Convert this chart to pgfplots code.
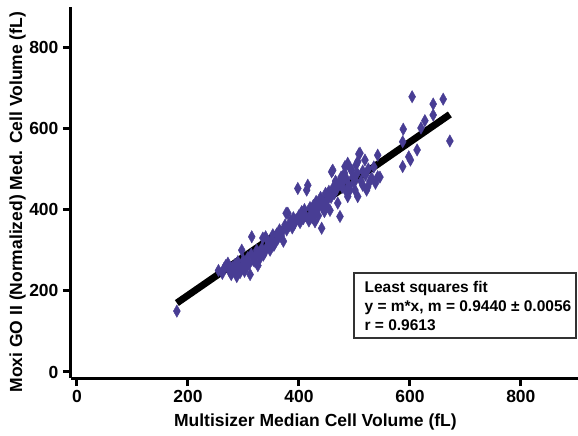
\documentclass[border=0pt]{standalone}
\usepackage{fontspec}
\setmainfont{Liberation Sans}
\usepackage{pgfplots}
\pgfplotsset{compat=1.18}
\definecolor{ptcol}{RGB}{72,61,148}
\definecolor{boxcol}{RGB}{50,50,50}
\begin{document}
\begin{tikzpicture}
\path[use as bounding box] (-71pt,-58pt) rectangle (507pt,378pt);
\begin{axis}[
  at={(0pt,0pt)}, anchor=south west,
  scale only axis, width=507pt, height=371pt,
  xmin=-10.8, xmax=903, ymin=-14.8, ymax=899,
  axis x line=bottom, axis y line=left,
  axis line style={-, line width=3pt, black},
  xtick={0,200,400,600,800}, ytick={0,200,400,600,800},
  tick align=outside, major tick length=8pt,
  tick style={line width=3pt, black},
  /pgf/number format/assume math mode=true,
  tick label style={font=\fontsize{17.5}{20}\selectfont\bfseries},
  xticklabel style={yshift=-1pt},
  yticklabel style={xshift=-1pt},
  label style={font=\fontsize{17.5}{20}\selectfont\bfseries},
  xlabel={Multisizer Median Cell Volume (fL)},
  ylabel={Moxi GO II (Normalized) Med. Cell Volume (fL)},
  xlabel style={at={(axis description cs:0.482,-0.132)}, anchor=base},
  ylabel style={at={(axis description cs:-0.1055,0.474)}, anchor=center},
  clip=false,
]
\addplot[only marks, mark=diamond*, mark size=6.2pt, color=ptcol,
  mark options={xscale=0.75, draw=ptcol, fill=ptcol}] coordinates {
(180,150)
(255,250) (262,243) (265,255) (268,262) (272,268) (275,248) (278,240) (280,258)
(283,250) (285,265) (288,235) (290,272) (292,255) (294,245) (297,300) (298,262)
(300,275) (302,248) (305,268) (306,259) (308,282) (310,265) (312,240) (314,290)
(315,333) (318,275) (320,285) (321,272) (324,300) (326,262) (328,292) (330,280)
(333,305) (335,330) (336,288) (339,296) (340,333) (343,310) (345,318) (348,300)
(350,325) (353,338) (355,312) (357,318) (360,340) (362,328) (365,350) (368,335)
(370,345) (372,322) (375,362) (377,391) (378,350) (380,391) (382,360) (385,372)
(388,355) (390,380) (392,365) (395,375) (398,452) (400,385) (402,368) (405,395)
(408,378) (410,400) (412,385) (414,448) (416,460) (418,372) (420,405) (422,390)
(424,380) (426,410) (428,395) (429,370) (431,420) (433,400) (435,385) (437,415)
(439,430) (441,354) (442,405) (444,420) (446,395) (448,440) (450,410) (452,425)
(454,445) (456,398) (458,430) (459,493) (461,497) (462,455) (464,440) (466,470)
(468,450) (470,416) (472,465) (474,383) (476,480) (478,455) (480,470) (482,490)
(483,506) (485,445) (486,475) (488,432) (488,514) (490,460) (492,448) (493,500)
(495,497) (497,480) (499,465) (501,448) (501,473) (503,510) (505,490) (506,518)
(506,432) (508,537) (510,539) (512,470) (515,495) (515,460) (519,522) (520,485)
(522,448) (524,456) (525,500) (528,470) (531,478) (535,505) (538,465) (542,534)
(542,481) (546,480) (587,506) (587,567) (588,598) (598,530) (601,522) (604,678)
(613,547) (620,601) (627,619) (642,633) (642,660) (660,672) (672,569)
};
\addplot[line width=7pt, black] coordinates {(180,169.9) (672,634.4)};
\draw[boxcol, line width=1.8pt] (axis cs:499,244) rectangle (axis cs:899,84);
\node[anchor=north west, align=left, inner sep=0pt,
  font=\fontsize{15.5}{19}\selectfont\bfseries] at (axis cs:518,225)
  {Least squares fit\\ y = m*x, m = 0.9440 ± 0.0056\\ r = 0.9613};
\end{axis}
\end{tikzpicture}
\end{document}
